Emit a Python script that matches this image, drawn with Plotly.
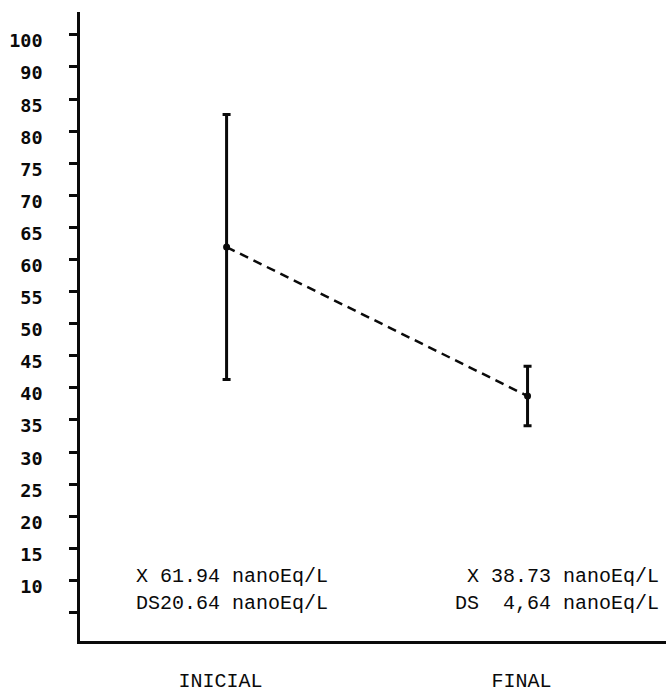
import plotly.graph_objects as go

# Data
categories = ["INICIAL", "FINAL"]
means = [61.94, 38.73]
sds = [20.64, 4.64]
mean_labels = ["X 61.94 nanoEq/L", "X 38.73 nanoEq/L"]
sd_labels = ["DS20.64 nanoEq/L", "DS  4,64 nanoEq/L"]
# Tick labels as printed on the original (evenly spaced marks, last mark labelled 100)
y_tick_labels = ["", "10", "15", "20", "25", "30", "35", "40", "45", "50",
                 "55", "60", "65", "70", "75", "80", "85", "90", "100"]
y_tick_vals = [5 * (i + 1) for i in range(len(y_tick_labels))]

INK = "#0a0a0a"
mono = "Liberation Mono"

fig = go.Figure()

fig.add_trace(go.Scatter(
    x=categories, y=means, mode="lines",
    line=dict(color=INK, width=2.5, dash="9px,6px"),
    hoverinfo="skip", showlegend=False,
))

fig.add_trace(go.Scatter(
    x=categories, y=means, mode="markers",
    marker=dict(color=INK, size=7),
    error_y=dict(type="data", array=sds, visible=True,
                 color=INK, thickness=3, width=4),
    showlegend=False,
))

annotations = [
    dict(x=0.092, y=0.103, xref="paper", yref="paper", text=mean_labels[0],
         xanchor="left", yanchor="middle", showarrow=False,
         font=dict(family=mono, size=20, color=INK)),
    dict(x=0.092, y=0.060, xref="paper", yref="paper", text=sd_labels[0],
         xanchor="left", yanchor="middle", showarrow=False,
         font=dict(family=mono, size=20, color=INK)),
    dict(x=0.992, y=0.103, xref="paper", yref="paper", text=mean_labels[1],
         xanchor="right", yanchor="middle", showarrow=False,
         font=dict(family=mono, size=20, color=INK)),
    dict(x=0.992, y=0.060, xref="paper", yref="paper", text=sd_labels[1],
         xanchor="right", yanchor="middle", showarrow=False,
         font=dict(family=mono, size=20, color=INK)),
]

fig.update_layout(
    width=666, height=693,
    margin=dict(l=80, r=0, t=12, b=48),
    paper_bgcolor="white", plot_bgcolor="white",
    annotations=annotations,
    xaxis=dict(
        type="category", range=[-0.487, 1.46],
        showgrid=False, zeroline=False,
        showline=True, linecolor=INK, linewidth=2.5,
        ticks="", ticklabelstandoff=19, ticklabelshift=-6,
        tickfont=dict(family=mono, size=20, color=INK),
    ),
    yaxis=dict(
        range=[0.56, 98.56],
        tickmode="array", tickvals=y_tick_vals, ticktext=y_tick_labels,
        showgrid=False, zeroline=False,
        showline=True, linecolor=INK, linewidth=2.5,
        ticks="outside", ticklen=8, tickwidth=2.5, tickcolor=INK,
        ticklabelstandoff=23, ticklabelshift=6,
        tickfont=dict(family="DejaVu Sans Mono", size=18.5, color=INK, weight="bold"),
    ),
)

fig.write_html("out.html", config={"displayModeBar": False},
               post_script="document.body.style.margin='0';")
